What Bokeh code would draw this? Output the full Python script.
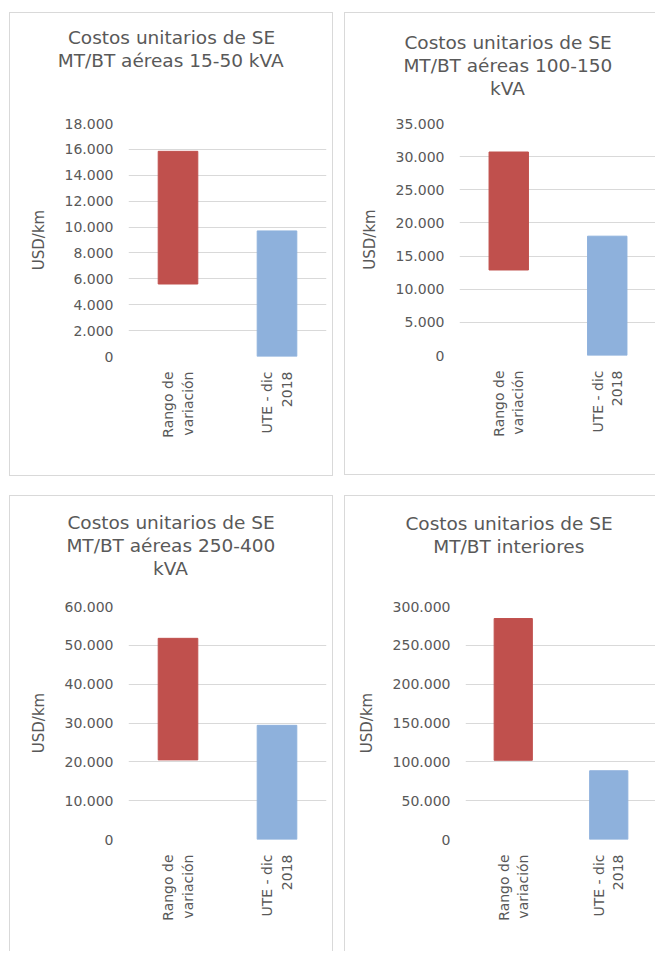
import math
from bokeh.plotting import figure
from bokeh.layouts import column, row
from bokeh.models import (Title, SingleIntervalTicker, CustomJSTickFormatter,
                          FactorRange, Range1d, ColumnDataSource)
from bokeh.embed import file_html
from bokeh.resources import INLINE

# ---------------- data ----------------
categories = ["Rango de\nvariación", "UTE - dic\n2018"]

titles = [
    ["Costos unitarios de SE", "MT/BT aéreas 15-50 kVA"],
    ["Costos unitarios de SE", "MT/BT aéreas 100-150", "kVA"],
    ["Costos unitarios de SE", "MT/BT aéreas 250-400", "kVA"],
    ["Costos unitarios de SE", "MT/BT interiores"],
]

# floating "range" bar (low, high) and UTE value (bar from 0)
range_low = [5600, 12900, 20500, 102000]
range_high = [15850, 30700, 51800, 284500]
ute_value = [9700, 18000, 29400, 88500]

y_max = [18000, 35000, 60000, 300000]
y_step = [2000, 5000, 10000, 50000]

y_label = "USD/km"

RED = "#C0504D"
BLUE = "#8EB1DC"
GRID = "#D9D9D9"
TXT = "#595959"
FONT = "DejaVu Sans"
TITLE_PX = 18.5

# DejaVu Sans advance widths (font units / 2048) used to centre title lines
ADV = {' ': 651, 'A': 1401, 'B': 1405, 'C': 1430, 'E': 1294, 'M': 1767, 'S': 1300,
       'T': 1251, 'V': 1401, 'a': 1255, 'd': 1300, 'e': 1260, 'é': 1260, 'i': 569,
       'k': 1186, 'n': 1298, 'o': 1253, 'r': 842, 's': 1067, 't': 803, 'u': 1298,
       'l': 569, '/': 690, '-': 739}


def text_width(s, px):
    return sum(ADV.get(c, 1303) for c in s) / 2048.0 * px


fmt = CustomJSTickFormatter(code="""
    return Math.round(tick).toLocaleString('en-US').replace(/,/g, '.');
""")


def make_panel(i, w, h, mleft, mright, mtop, mbottom, title_cx, gap, margin, border):
    p = figure(x_range=FactorRange(*categories), y_range=Range1d(0, y_max[i]),
               width=w, height=h, output_backend="svg", toolbar_location=None,
               min_border_left=mleft, min_border_right=mright,
               min_border_top=mtop, min_border_bottom=mbottom,
               title=None, margin=margin, styles=border)
    src = ColumnDataSource(dict(
        x=categories,
        bottom=[range_low[i], 0],
        top=[range_high[i], ute_value[i]],
        color=[RED, BLUE],
    ))
    p.vbar(x="x", bottom="bottom", top="top", width=0.4, color="color", source=src)

    p.outline_line_color = None
    p.background_fill_color = "white"
    p.border_fill_color = "white"

    p.xgrid.grid_line_color = None
    p.ygrid.grid_line_color = GRID
    p.ygrid.grid_line_width = 1

    p.yaxis.ticker = SingleIntervalTicker(interval=y_step[i])
    p.yaxis.formatter = fmt
    p.yaxis.axis_line_color = None
    p.yaxis.major_tick_line_color = None
    p.yaxis.minor_tick_line_color = None
    p.yaxis.major_label_text_font = FONT
    p.yaxis.major_label_text_font_size = "14px"
    p.yaxis.major_label_text_color = TXT
    p.yaxis.major_label_standoff = 9
    p.yaxis.axis_label = y_label
    p.yaxis.axis_label_text_font = FONT
    p.yaxis.axis_label_text_font_size = "15px"
    p.yaxis.axis_label_text_font_style = "normal"
    p.yaxis.axis_label_text_color = TXT
    p.yaxis.axis_label_standoff = 14

    p.xaxis.axis_line_color = None
    p.xaxis.major_tick_line_color = None
    p.xaxis.minor_tick_line_color = None
    p.xaxis.major_label_orientation = math.pi / 2
    p.xaxis.major_label_text_font = FONT
    p.xaxis.major_label_text_font_size = "14px"
    p.xaxis.major_label_text_color = TXT
    p.xaxis.major_label_standoff = 9

    # spacer between the frame and the chart title
    p.add_layout(Title(text=" ", text_font_size="1px", standoff=gap), "above")
    # title lines, bottom line first (nearest the frame), each centred on title_cx
    for line in reversed(titles[i]):
        off = title_cx - text_width(line, TITLE_PX) / 2.0
        p.add_layout(Title(text=line, align="left", offset=off, standoff=0,
                           text_font=FONT, text_font_size=f"{TITLE_PX}px",
                           text_font_style="normal", text_color=TXT), "above")
    return p


b_full = {"border": "1px solid #D9D9D9"}
b_noright = {"border-top": "1px solid #D9D9D9", "border-left": "1px solid #D9D9D9",
             "border-bottom": "1px solid #D9D9D9"}
b_top_lr = {"border-top": "1px solid #D9D9D9", "border-left": "1px solid #D9D9D9",
            "border-right": "1px solid #D9D9D9"}
b_tl = {"border-top": "1px solid #D9D9D9", "border-left": "1px solid #D9D9D9"}

# title_cx is relative to the frame's left edge
p1 = make_panel(0, 324, 464, 118, 8, 110, 121, 43, 50, (12, 0, 0, 9), b_full)
p2 = make_panel(1, 311, 463, 114, 0, 110, 120, 48.5, 22, (12, 0, 0, 11), b_noright)
p3 = make_panel(2, 324, 456, 118, 8, 110, 113, 42.5, 25, (19, 0, 0, 9), b_top_lr)
p4 = make_panel(3, 311, 456, 120, 0, 110, 113, 43.5, 47, (19, 0, 0, 11), b_tl)

layout = column(row(p1, p2), row(p3, p4))

open("out.html", "w").write(file_html(layout, INLINE))
